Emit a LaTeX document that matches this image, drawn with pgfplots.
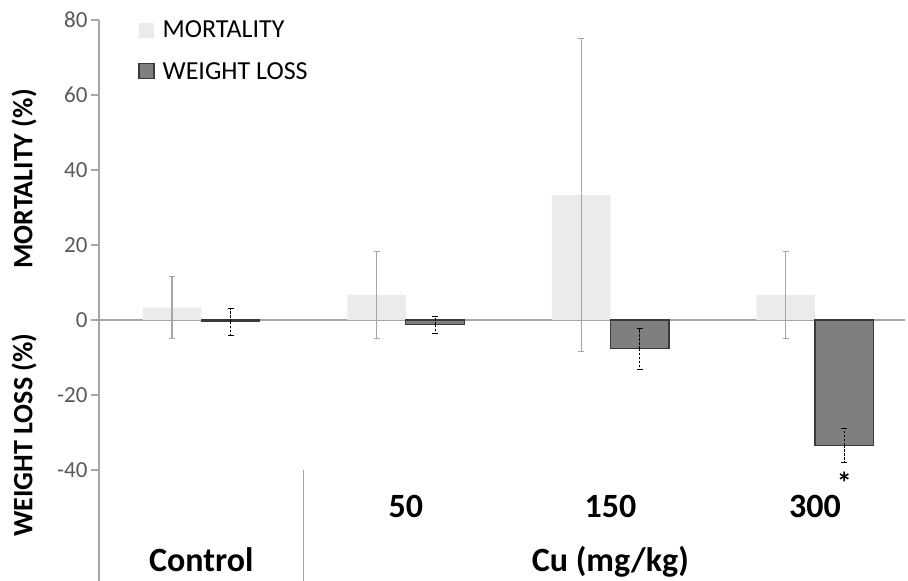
\documentclass[border=0pt]{standalone}
\usepackage{fontspec}
\setmainfont{Carlito}
\usepackage{pgfplots}
\pgfplotsset{compat=1.18}
\usetikzlibrary{calc}

\definecolor{mortfill}{HTML}{EBEBEB}
\definecolor{wfill}{HTML}{7F7F7F}
\definecolor{wdraw}{HTML}{3A3A3A}
\definecolor{axisgray}{HTML}{A6A6A6}
\definecolor{labgray}{HTML}{595959}

\begin{document}
\begin{tikzpicture}
\begin{axis}[
  name=ax,
  scale only axis, width=806pt, height=561pt,
  xmin=-0.5, xmax=3.44, ymin=-69.6, ymax=80,
  ybar, bar width=0.286,
  axis x line=none, axis y line=left,
  y axis line style={-, draw=axisgray, line width=1.1pt},
  xtick=\empty,
  ytick={-40,-20,0,20,40,60,80},
  yticklabels={-40,-20,0,20,40,60,80},
  tick align=outside, major tick length=8pt,
  ytick style={draw=axisgray, line width=1.1pt},
  yticklabel style={font=\fontsize{23}{23}\selectfont, text=labgray},
  clip=false,
  legend style={draw=none, fill=none, at={(0.045,1.006)}, anchor=north west,
    font=\fontsize{26}{26}\selectfont, row sep=19pt,
    /tikz/every odd column/.append style={column sep=6pt}},
  legend cell align=left,
]
% zero line and category separator
\draw[axisgray, line width=1.1pt] (axis cs:-0.5,0) -- (axis cs:3.44,0);
\draw[axisgray, line width=1pt] (axis cs:0.5,-40) -- (axis cs:0.5,-69.6);

\addplot[fill=mortfill, draw=none, bar shift=-0.143,
  legend image code/.code={\fill[mortfill] (0pt,-7.5pt) rectangle (15pt,7.5pt);},
  error bars/.cd, y dir=both, y explicit,
  error bar style={draw=axisgray, solid, line width=1.1pt},
  error mark options={rotate=90, draw=axisgray, mark size=3pt, line width=1.1pt}]
coordinates {(0,3.33) +- (0,8.2) (1,6.67) +- (0,11.7) (2,33.33) +- (0,41.67) (3,6.67) +- (0,11.7)};

\addplot[fill=wfill, draw=wdraw, line width=1.2pt, bar shift=0.143,
  legend image code/.code={\draw[fill=wfill, draw=wdraw, line width=1.2pt] (0pt,-7.5pt) rectangle (15pt,7.5pt);},
  error bars/.cd, y dir=both, y explicit,
  error bar style={draw=black, dash pattern=on 2.5pt off 1.5pt, line width=0.8pt},
  error mark options={rotate=90, draw=black, mark size=3pt, line width=0.7pt}]
coordinates {(0,-0.5) +- (0,3.5) (1,-1.3) +- (0,2.3) (2,-7.7) +- (0,5.4) (3,-33.4) +- (0,4.6)};

\legend{MORTALITY, WEIGHT LOSS}

% category labels
\node[font=\bfseries\fontsize{34}{34}\selectfont, anchor=base] at (axis cs:1,-52.8) {50};
\node[font=\bfseries\fontsize{34}{34}\selectfont, anchor=base] at (axis cs:2,-52.8) {150};
\node[font=\bfseries\fontsize{34}{34}\selectfont, anchor=base] at (axis cs:3,-52.8) {300};
\node[font=\bfseries\fontsize{34}{34}\selectfont, anchor=base] at (axis cs:0,-67.2) {Control};
\node[font=\bfseries\fontsize{34}{34}\selectfont, anchor=base] at (axis cs:2,-67.2) {Cu (mg/kg)};
% significance mark, box trimmed to the glyph
\node[font=\bfseries\fontsize{30}{30}\selectfont, inner sep=0pt, text height=11pt, text depth=0pt, anchor=south]
  at (axis cs:3.143,-43.4) {\smash{\raisebox{-11pt}{*}}};

% axis titles
\node[rotate=90, font=\bfseries\fontsize{28}{28}\selectfont] at ([xshift=-75pt]axis cs:-0.5,37.6) {MORTALITY (\%)};
\node[rotate=90, font=\bfseries\fontsize{28}{28}\selectfont] at ([xshift=-75pt]axis cs:-0.5,-30.7) {WEIGHT LOSS (\%)};
\end{axis}
\pgfresetboundingbox
\useasboundingbox ([xshift=-99pt]ax.south west) rectangle ([xshift=3pt,yshift=20pt]ax.north east);
\end{tikzpicture}
\end{document}
